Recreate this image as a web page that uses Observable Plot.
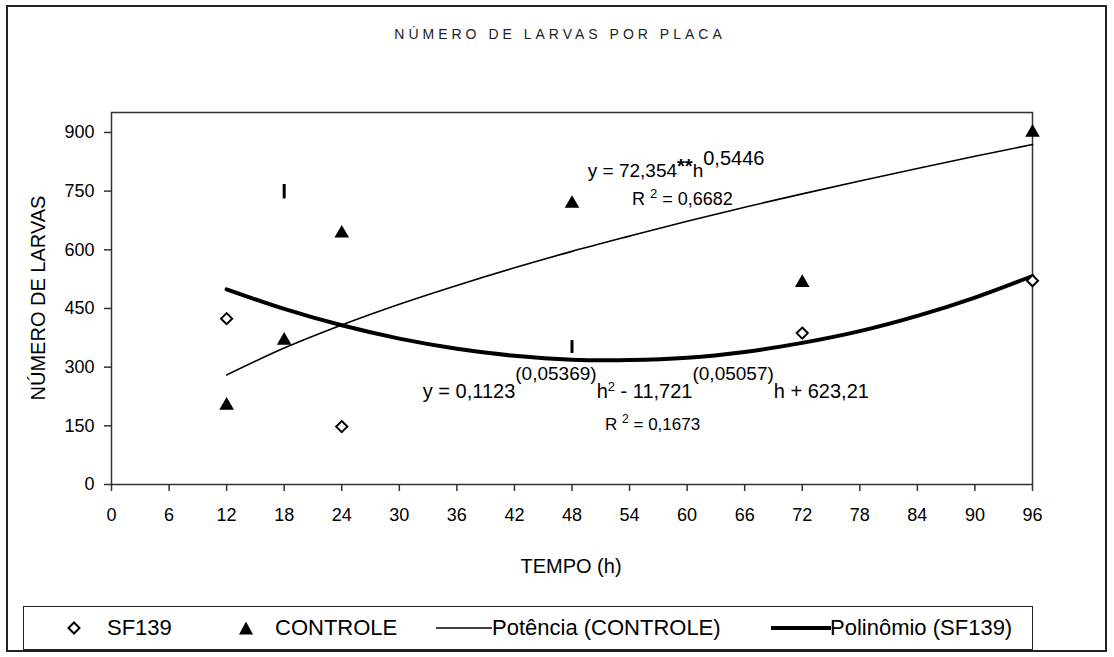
<!DOCTYPE html>
<html><head><meta charset="utf-8">
<script src="https://cdn.jsdelivr.net/npm/d3@7"></script>
<script src="https://cdn.jsdelivr.net/npm/@observablehq/plot@0.6"></script>
<style>
html,body{margin:0;padding:0;background:#fff;}
#chart{position:relative;width:1114px;height:657px;overflow:hidden;font-family:"Liberation Sans",Arial,sans-serif;color:#000;}
#outer{position:absolute;left:6px;top:5px;width:1101px;height:647px;border:2px solid #222;box-sizing:border-box;}
#title{position:absolute;left:0;top:26px;width:1120px;text-align:center;font-size:14px;letter-spacing:4px;color:#222;}
#plot{position:absolute;left:0;top:0;}
#ylab{position:absolute;left:38px;top:298px;transform:translate(-50%,-50%) rotate(-90deg);font-size:20px;white-space:nowrap;}
#xlab{position:absolute;left:571px;top:566px;transform:translate(-50%,-50%);font-size:20px;white-space:nowrap;}
#legend{position:absolute;left:23px;top:606px;width:1010px;height:44px;border:1px solid #222;box-sizing:border-box;}
.li{position:absolute;top:21px;transform:translateY(-50%);font-size:22px;white-space:nowrap;line-height:1;}
.ls{position:absolute;top:21px;}
</style></head>
<body>
<div id="chart">
  <div id="outer"></div>
  <div id="title"></div>
  <div id="plot"></div>
  <div id="ylab"></div>
  <div id="xlab"></div>
  <div id="legend"></div>
</div>
<script>
// ---- data ----
const titleText = "NÚMERO DE LARVAS POR PLACA";
const yLabel = "NÚMERO DE LARVAS";
const xLabel = "TEMPO (h)";
const xTicks = [0, 6, 12, 18, 24, 30, 36, 42, 48, 54, 60, 66, 72, 78, 84, 90, 96];
const yTicks = [0, 150, 300, 450, 600, 750, 900];

const sfHours = [12, 24, 72, 96];
const sf139 = [424, 148, 387, 521];

const ctHours = [12, 18, 24, 48, 72, 96];
const controle = [202, 368, 642, 718, 516, 900];

const barHours = [18, 48];
const barLow = [730, 335];
const barHigh = [767, 368];

const fitHours = [12, 18, 24, 30, 36, 42, 48, 54, 60, 66, 72, 78, 84, 90, 96];
const potencia = [280, 349, 408, 461, 509, 554, 596, 635, 673, 709, 743, 776, 808, 839, 869];
const polinomio = [499, 449, 407, 373, 347, 329, 319, 318, 324, 339, 362, 392, 431, 478, 533];

const legendLabels = ["SF139", "CONTROLE", "Potência (CONTROLE)", "Polinômio (SF139)"];

// ---- tables ----
const sfData = sfHours.map((h, i) => ({h, v: sf139[i]}));
const ctData = ctHours.map((h, i) => ({h, v: controle[i]}));
const barData = barHours.map((h, i) => ({h, lo: barLow[i], hi: barHigh[i]}));
const fitData = fitHours.map((h, i) => ({h, p: potencia[i], q: polinomio[i]}));

const font = "'Liberation Sans', Arial, sans-serif";

const plot = Plot.plot({
  width: 1114, height: 560,
  marginLeft: 111, marginRight: 82, marginTop: 112, marginBottom: 76,
  x: {domain: [0, 96]},
  y: {domain: [0, 951]},
  style: {fontFamily: font, fontSize: "18px", color: "#000", background: "transparent", overflow: "visible"},
  marks: [
    Plot.frame({stroke: "#333", strokeWidth: 1.5}),
    Plot.axisY({ticks: yTicks, tickSize: 7, tickPadding: 10, label: null, fontSize: 18, stroke: "#333", strokeWidth: 1.5, tickFormat: d => String(d)}),
    Plot.axisX({ticks: xTicks, tickSize: 7, tickPadding: 17, label: null, fontSize: 18, stroke: "#333", strokeWidth: 1.5, tickFormat: d => String(d)}),
    Plot.line(fitData, {x: "h", y: "p", stroke: "#000", strokeWidth: 1.6, curve: "catmull-rom"}),
    Plot.line(fitData, {x: "h", y: "q", stroke: "#000", strokeWidth: 4, curve: "catmull-rom"}),
    Plot.ruleX(barData, {x: "h", y1: "lo", y2: "hi", stroke: "#000", strokeWidth: 3}),
    Plot.dot(ctData, {x: "h", y: "v", symbol: "triangle2", fill: "#000", r: 7}),
    Plot.dot(sfData, {x: "h", y: "v", symbol: "diamond2", fill: "#fff", stroke: "#000", strokeWidth: 2, r: 5})
  ]
});
document.getElementById("plot").appendChild(plot);

// ---- equation annotations, positioned with the plot's own scales ----
const xs = plot.scale("x").apply, ys = plot.scale("y").apply;
function rich(x, y, parts) {
  const t = d3.select(plot).append("text")
    .attr("x", xs(x)).attr("y", ys(y))
    .attr("text-anchor", "start")
    .attr("font-family", font).attr("fill", "#000");
  parts.forEach(p => {
    const s = t.append("tspan").attr("font-size", p.size).text(p.text);
    if (p.dy) s.attr("dy", p.dy);
    if (p.bold) s.attr("font-weight", "bold");
  });
}
rich(49.7, 785, [
  {text: "y = 72,354", size: 19},
  {text: "**", size: 20, dy: -4, bold: true},
  {text: "h", size: 19, dy: 4},
  {text: "0,5446", size: 20, dy: -12}
]);
rich(54.3, 713, [
  {text: "R ", size: 18},
  {text: "2", size: 13, dy: -7},
  {text: " = 0,6682", size: 18, dy: 7}
]);
rich(32.5, 220, [
  {text: "y = 0,1123", size: 20},
  {text: "(0,05369)", size: 19, dy: -18},
  {text: "h", size: 20, dy: 18},
  {text: "2", size: 13, dy: -7},
  {text: " - 11,721", size: 20, dy: 7},
  {text: "(0,05057)", size: 19, dy: -18},
  {text: "h + 623,21", size: 20, dy: 18}
]);
rich(51.5, 138, [
  {text: "R ", size: 17},
  {text: "2", size: 12, dy: -7},
  {text: " = 0,1673", size: 17, dy: 7}
]);

// ---- text ----
document.getElementById("title").textContent = titleText;
document.getElementById("ylab").textContent = yLabel;
document.getElementById("xlab").textContent = xLabel;

// ---- legend ----
const lg = document.getElementById("legend");
const sw = (left, svg) => { const d = document.createElement("div"); d.className = "ls"; d.style.left = left + "px"; d.style.transform = "translateY(-50%)"; d.innerHTML = svg; lg.appendChild(d); };
const lt = (left, txt) => { const d = document.createElement("div"); d.className = "li"; d.style.left = left + "px"; d.textContent = txt; lg.appendChild(d); };
sw(43, '<svg width="14" height="14" style="display:block"><path d="M7,1.5L12.5,7L7,12.5L1.5,7Z" fill="#fff" stroke="#000" stroke-width="2"/></svg>');
lt(83, legendLabels[0]);
sw(214, '<svg width="16" height="16" style="display:block"><path d="M8,1.5L15,14.5L1,14.5Z" fill="#000"/></svg>');
lt(251, legendLabels[1]);
sw(412, '<svg width="56" height="4" style="display:block"><line x1="0" y1="2" x2="56" y2="2" stroke="#000" stroke-width="1.6"/></svg>');
lt(468, legendLabels[2]);
sw(747, '<svg width="60" height="6" style="display:block"><line x1="0" y1="3" x2="60" y2="3" stroke="#000" stroke-width="4"/></svg>');
lt(806, legendLabels[3]);
</script>
</body></html>
